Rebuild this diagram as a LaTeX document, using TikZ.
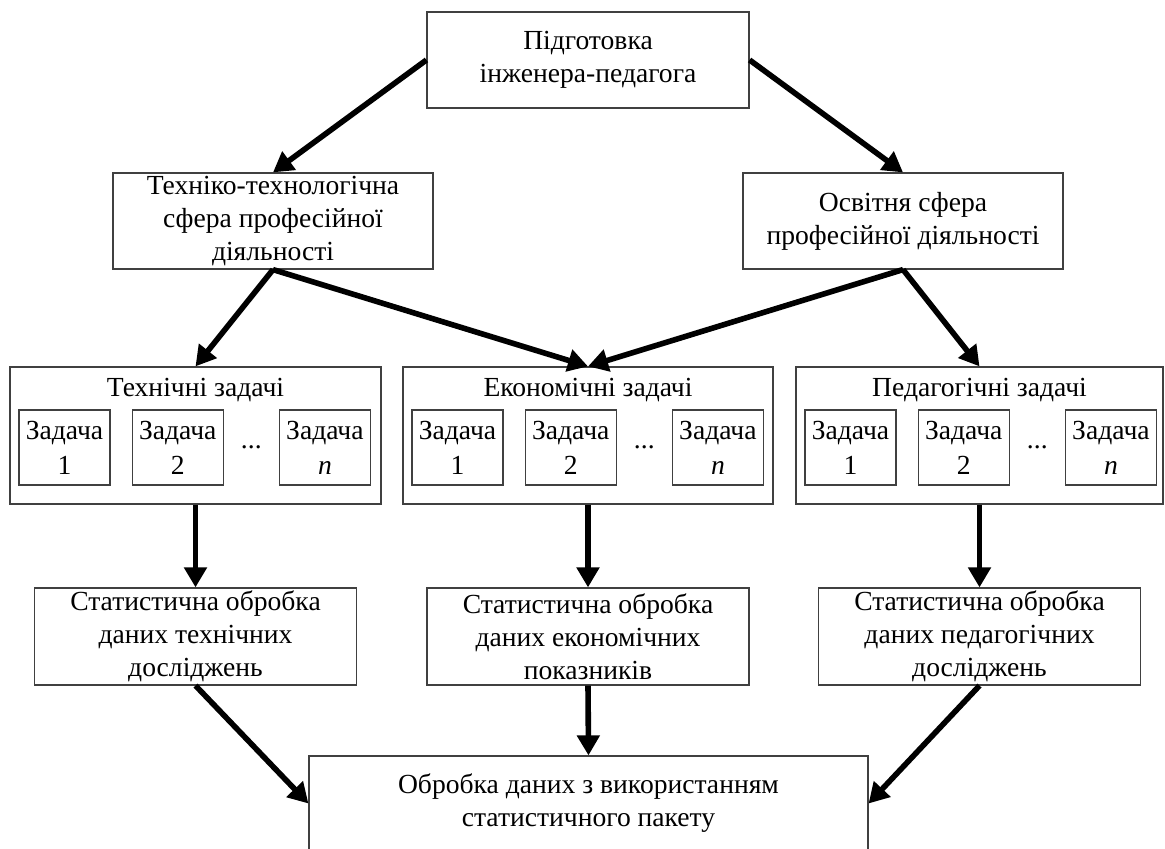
\documentclass[tikz,border=0pt]{standalone}
\usepackage{fontspec}
\setmainfont{Liberation Serif}
\usetikzlibrary{arrows.meta,positioning}

\begin{document}
\begin{tikzpicture}[
    x=0.5pt,y=-0.5pt,
    block/.style={rectangle,draw=black!75,line width=0.6pt,align=center,inner sep=0pt,font=\fontsize{13.8pt}{16.5pt}\selectfont},
    group/.style={block,minimum height=68.5pt},
    stat/.style={block,minimum width=161pt,minimum height=48.5pt},
    task/.style={block,minimum width=45.5pt,minimum height=37.5pt,font=\fontsize{13.8pt}{17.5pt}\selectfont},
    title/.style={inner sep=0pt,font=\fontsize{13.8pt}{16pt}\selectfont},
    link/.style={line width=2.8pt,-{Triangle[length=10pt,width=11pt]}},
]
\useasboundingbox (0,0) rectangle (1165,849);
\node[block,minimum width=161pt,minimum height=48pt] (prep) at (588,60) {Підготовка\\інженера-педагога};
\node[block,minimum width=160pt,minimum height=48pt] (tech) at (273,221) {Техніко-технологічна\\сфера професійної\\діяльності};
\node[block,minimum width=160pt,minimum height=48pt] (edu) at (903,221) {Освітня сфера\\професійної діяльності};

% groups of tasks
\node[group,minimum width=185.5pt] (gtech) at (195.5,435.5) {};
\node[group,minimum width=185pt] (gecon) at (588,435.5) {};
\node[group,minimum width=183.5pt] (gped) at (979.5,435.5) {};
\node[title] at ([yshift=-12pt]gtech.north) {Технічні задачі};
\node[title] at ([yshift=-12pt]gecon.north) {Економічні задачі};
\node[title] at ([yshift=-12pt]gped.north) {Педагогічні задачі};

\node[task,right=4.5pt of gtech.west,yshift=-6pt] (t11) {Задача\\1};
\node[task,right=10.5pt of t11] (t12) {Задача\\2};
\node[task,right=27.5pt of t12] (t13) {Задача\\\textit{n}};
\node[task,right=4.5pt of gecon.west,yshift=-6pt] (t21) {Задача\\1};
\node[task,right=10.5pt of t21] (t22) {Задача\\2};
\node[task,right=27.5pt of t22] (t23) {Задача\\\textit{n}};
\node[task,right=4.5pt of gped.west,yshift=-6pt] (t31) {Задача\\1};
\node[task,right=10.5pt of t31] (t32) {Задача\\2};
\node[task,right=27.5pt of t32] (t33) {Задача\\\textit{n}};
\path (t12) -- node[title] (d1) {...} (t13);
\path (t22) -- node[title] (d2) {...} (t23);
\path (t32) -- node[title] (d3) {...} (t33);

% statistics
\node[stat] (stech) at (195.5,636.5) {Статистична обробка\\даних технічних\\досліджень};
\node[stat] (secon) at (588,636.5) {Статистична обробка\\даних економічних\\показників};
\node[stat] (sped) at (979.5,636.5) {Статистична обробка\\даних педагогічних\\досліджень};
\node[block,minimum width=279.5pt,minimum height=47.5pt] (out) at (588.5,803.5) {Обробка даних з використанням\\статистичного пакету};

\draw[link] (prep.west) -- (tech.north);
\draw[link] (prep.east) -- (edu.north);
\draw[link] (tech.south) -- (gtech.north);
\draw[link] (tech.south) -- (gecon.north);
\draw[link] (edu.south) -- (gecon.north);
\draw[link] (edu.south) -- (gped.north);
\draw[link] (gtech.south) -- (stech.north);
\draw[link] (gecon.south) -- (secon.north);
\draw[link] (gped.south) -- (sped.north);
\draw[link] (stech.south) -- (out.west);
\draw[link] (secon.south) -- (out.north);
\draw[link] (sped.south) -- (out.east);
\end{tikzpicture}
\end{document}
